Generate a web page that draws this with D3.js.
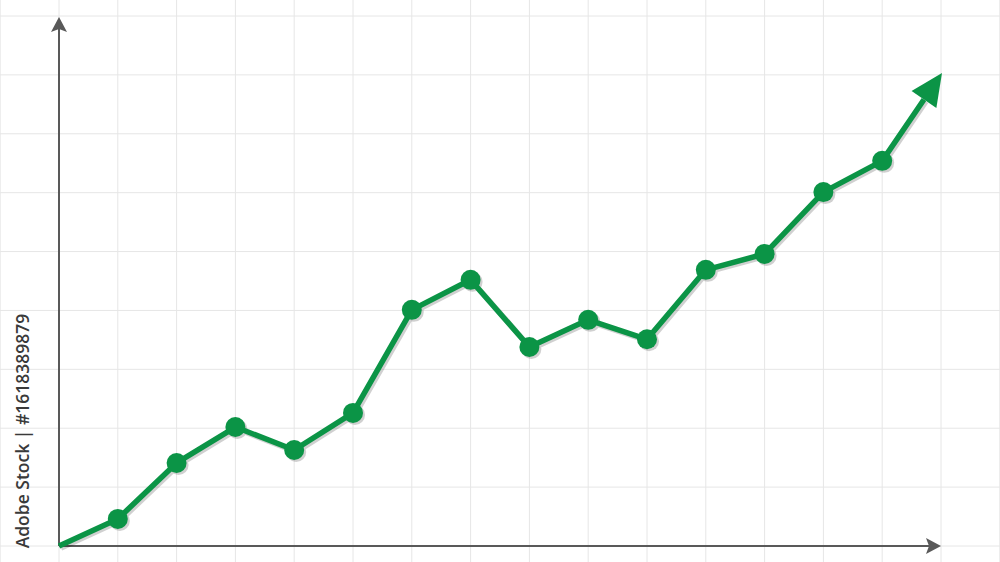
<!DOCTYPE html>
<html><head><meta charset="utf-8">
<script src="https://cdn.jsdelivr.net/npm/d3@7"></script>
<style>html,body{margin:0;padding:0;background:#fff;}svg{display:block;}</style>
</head><body>
<svg id="c" width="1000" height="562"></svg>
<script>
// data (x index in grid units, value in chart units)
const xs = [0,1,2,3,4,5,6,7,8,9,10,11,12,13,14];
const values = [0,4.6,14.1,20.2,16.3,22.6,40.1,45.2,33.8,38.4,35.1,46.9,49.6,60.1,65.4];
const arrowEnd = {x:15, v:80.3};
const watermark = "Adobe Stock | #1618389879";

const svg = d3.select("#c");
const W=1000,H=562;
const x = d3.scaleLinear().domain([0,15]).range([59,941]);
const y = d3.scaleLinear().domain([0,90]).range([546,16]);

// grid
const g = svg.append("g");
const xGrid = d3.range(-1,17), yGrid = d3.range(0,100,10);
g.selectAll("line.v").data(xGrid).enter().append("line")
 .attr("x1",d=>x(d)).attr("x2",d=>x(d)).attr("y1",0).attr("y2",H)
 .attr("stroke","#e6e6e6").attr("stroke-width",1);
g.selectAll("line.h").data(yGrid).enter().append("line")
 .attr("y1",d=>y(d)).attr("y2",d=>y(d)).attr("x1",0).attr("x2",W)
 .attr("stroke","#e6e6e6").attr("stroke-width",1);

// axes
const ax="#595959";
svg.append("line").attr("x1",x(0)).attr("x2",x(0)).attr("y1",y(0)).attr("y2",y(90)+12)
 .attr("stroke",ax).attr("stroke-width",2);
svg.append("path").attr("d",`M${x(0)},${y(90)+1} L${x(0)-8},${y(90)+16} L${x(0)},${y(90)+13} L${x(0)+8},${y(90)+16} Z`).attr("fill",ax);
svg.append("line").attr("x1",x(0)).attr("x2",x(15)-12).attr("y1",y(0)).attr("y2",y(0))
 .attr("stroke",ax).attr("stroke-width",2);
svg.append("path").attr("d",`M${x(15)},${y(0)} L${x(15)-15},${y(0)-8} L${x(15)-12},${y(0)} L${x(15)-15},${y(0)+8} Z`).attr("fill",ax);

// line
const green="#0b9446";
const pts = xs.map((d,i)=>[x(d),y(values[i])]);
const tip=[x(arrowEnd.x)+1,y(arrowEnd.v)];
const last=pts[pts.length-1];
const ang=Math.atan2(tip[1]-last[1],tip[0]-last[0]);
const L=32, hw=15;
const base=[tip[0]-L*Math.cos(ang), tip[1]-L*Math.sin(ang)];
const linePts = pts.concat([base]);
const line=d3.line();
const shadow=svg.append("g").attr("transform","translate(2,2)").attr("opacity",0.18);
shadow.append("path").attr("d",line(linePts)).attr("fill","none").attr("stroke","#000").attr("stroke-width",5.5);
shadow.selectAll("circle").data(pts.slice(1)).enter().append("circle").attr("cx",d=>d[0]).attr("cy",d=>d[1]).attr("r",10).attr("fill","#000");
svg.append("path").attr("d",line(linePts)).attr("fill","none").attr("stroke",green).attr("stroke-width",5.5).attr("stroke-linejoin","round");
svg.selectAll("circle.p").data(pts.slice(1)).enter().append("circle").attr("class","p")
 .attr("cx",d=>d[0]).attr("cy",d=>d[1]).attr("r",10).attr("fill",green);
const px=-Math.sin(ang), py=Math.cos(ang);
svg.append("path").attr("d",`M${tip[0]},${tip[1]} L${base[0]+hw*px},${base[1]+hw*py} L${base[0]-hw*px},${base[1]-hw*py} Z`).attr("fill",green);

// watermark text
svg.append("text").attr("transform","translate(29,431) rotate(-90)")
 .attr("text-anchor","middle").attr("font-family","Open Sans, sans-serif").attr("font-size",17.5)
 .attr("font-weight",600).attr("fill","#3a3a3a").text(watermark);
</script>
</body></html>
